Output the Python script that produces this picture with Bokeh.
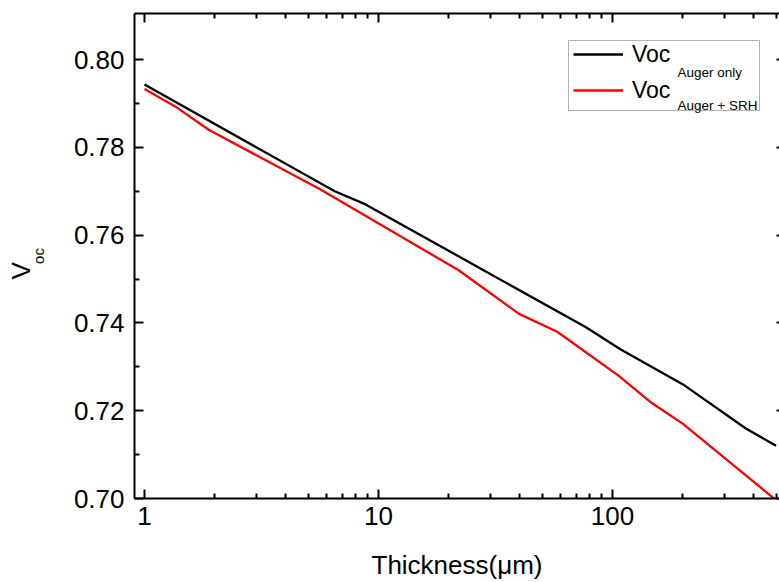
import math
from bokeh.plotting import figure
from bokeh.models import (LogAxis, LinearAxis, FixedTicker, PrintfTickFormatter,
                          CustomJSTickFormatter, Range1d, Label, Legend, LegendItem,
                          BoxAnnotation, Title)
from bokeh.embed import file_html
from bokeh.resources import INLINE

# ---- data ----
thickness_auger = [1, 6.5, 8.8, 77, 108, 200, 370, 500]
voc_auger = [0.7943, 0.770, 0.767, 0.739, 0.734, 0.726, 0.716, 0.712]

thickness_srh = [1, 1.38, 1.88, 5.6, 22, 40, 58, 106, 145, 200, 500]
voc_srh = [0.7933, 0.789, 0.784, 0.7705, 0.752, 0.742, 0.738, 0.728, 0.722, 0.717, 0.6996]

x_major = [1, 10, 100]
x_minor = [2, 3, 4, 5, 6, 7, 8, 9, 20, 30, 40, 50, 60, 70, 80, 90, 200, 300, 400, 500]
y_major = [0.70, 0.72, 0.74, 0.76, 0.78, 0.80]
y_minor = [0.71, 0.73, 0.75, 0.77, 0.79]

series_main = ["Voc", "Voc"]
series_sub = ["Auger only", "Auger + SRH"]
series_colors = ["#000000", "#ff0000"]

x_title = "Thickness(\u03bcm)"
y_title_main = "V"
y_title_sub = "oc"

FONT = "Liberation Sans"

p = figure(width=779, height=582, x_axis_type="log",
           x_range=Range1d(0.906, 517), y_range=Range1d(0.70, 0.8105),
           output_backend="svg", toolbar_location=None,
           min_border_left=134, min_border_right=0, min_border_top=13,
           min_border_bottom=83, background_fill_color="white",
           border_fill_color="white")
p.outline_line_color = None
p.xgrid.visible = False
p.ygrid.visible = False

r1 = p.line(thickness_auger, voc_auger, line_color=series_colors[0], line_width=2.3)
r2 = p.line(thickness_srh, voc_srh, line_color=series_colors[1], line_width=2.3)

xt = FixedTicker(ticks=x_major, minor_ticks=x_minor)
yt = FixedTicker(ticks=y_major, minor_ticks=y_minor)


def style(ax):
    ax.axis_line_width = 2
    ax.axis_line_color = "black"
    ax.major_tick_in = 9
    ax.major_tick_out = 0
    ax.minor_tick_in = 5
    ax.minor_tick_out = 0
    ax.major_tick_line_width = 2
    ax.minor_tick_line_width = 2
    ax.major_label_text_font = FONT
    ax.major_label_text_font_size = "26px"
    ax.major_label_text_color = "black"


xb = p.xaxis[0]
xb.ticker = xt
xb.formatter = PrintfTickFormatter(format="%d")
style(xb)
xb.major_label_standoff = 8
xb.axis_label = x_title
xb.axis_label_text_font = FONT
xb.axis_label_text_font_size = "26px"
xb.axis_label_text_font_style = "normal"
xb.axis_label_text_color = "black"
xb.axis_label_standoff = 22

yl = p.yaxis[0]
yl.ticker = yt
yl.formatter = PrintfTickFormatter(format="%.2f")
style(yl)
yl.major_label_standoff = 10
# subscript part of the y title sits right next to the tick labels
yl.axis_label = y_title_sub
yl.axis_label_text_font = FONT
yl.axis_label_text_font_size = "15px"
yl.axis_label_text_font_style = "normal"
yl.axis_label_text_color = "black"
yl.axis_label_standoff = 24

blank = CustomJSTickFormatter(code="return '';")

xa = LogAxis(ticker=xt, formatter=blank)
style(xa)
xa.major_label_text_font_size = "1px"
xa.major_label_standoff = 0
p.add_layout(xa, "above")

yr = LinearAxis(ticker=yt, formatter=blank)
style(yr)
yr.axis_line_alpha = 0
yr.major_tick_in = 3
yr.minor_tick_in = 0
yr.major_label_text_font_size = "1px"
yr.major_label_standoff = 0
p.add_layout(yr, "right")

# main letter of the y title
p.add_layout(Title(text=y_title_main, align="left", offset=219,
                   vertical_align="bottom", standoff=-19,
                   text_font=FONT, text_font_size="26px",
                   text_font_style="normal", text_color="black"), "left")

# legend frame
p.add_layout(BoxAnnotation(left=568 - 134, right=759 - 134, top=499 - 41, bottom=499 - 111,
                           left_units="screen", right_units="screen",
                           top_units="screen", bottom_units="screen",
                           fill_color="white", fill_alpha=1,
                           line_color="black", line_width=1))

legend = Legend(items=[LegendItem(label=series_main[0], renderers=[r1]),
                       LegendItem(label=series_main[1], renderers=[r2])],
                location=(573 - 134, 499 - 109), orientation="vertical",
                glyph_width=50, glyph_height=36, label_height=36, spacing=0,
                padding=0, margin=0, label_standoff=9,
                label_text_font=FONT, label_text_font_size="23px",
                label_text_color="black",
                border_line_alpha=0, background_fill_alpha=0)
p.add_layout(legend)

for txt, yb in zip(series_sub, [72.5, 106]):
    p.add_layout(Label(x=677 - 134, y=499 - yb, x_units="screen", y_units="screen",
                       text=txt, text_align="left", text_baseline="alphabetic",
                       text_font=FONT, text_font_size="13.5px", text_color="black"))

open("out.html", "w").write(file_html(p, INLINE))
